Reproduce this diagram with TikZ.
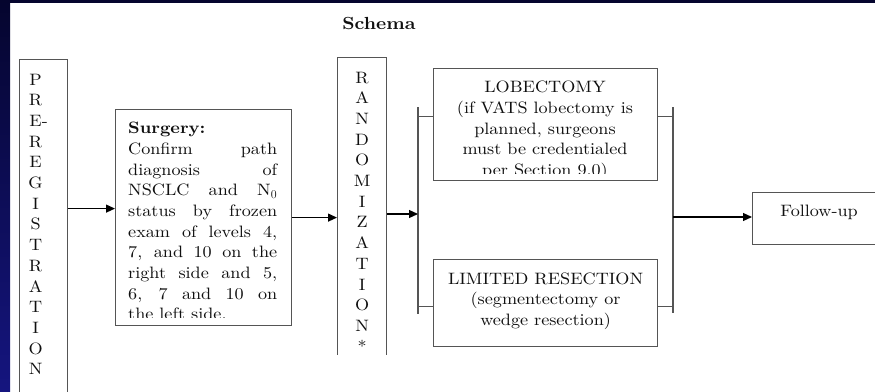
\documentclass[tikz,border=0pt]{standalone}
\usepackage{fontspec}
\setmainfont{lmroman10}[Extension=.otf, UprightFont=*-regular, BoldFont=*-bold, FakeStretch=1.1]
\usetikzlibrary{arrows.meta,calc}
\definecolor{navytop}{HTML}{05052E}
\definecolor{navybot}{HTML}{15157F}
\definecolor{boxgray}{HTML}{555555}
\definecolor{txt}{HTML}{101010}
\newcommand\pletter[1]{\makebox[22pt]{#1}}
\begin{document}
\begin{tikzpicture}[x=1pt,y=-1pt,
  every node/.style={font=\fontsize{16.5}{20.7}\selectfont, text=txt},
  boxs/.style={draw=boxgray, line width=1.2pt, rectangle, inner sep=0pt},
  arr/.style={draw=black, line width=1.2pt, -{Triangle[length=9pt,width=8pt]}},
  conn/.style={draw=boxgray, line width=1.2pt},
]
\useasboundingbox (0,0) rectangle (875,391);
\clip (0,0) rectangle (875,391);
\fill[white] (0,0) rectangle (875,391);
\shade[top color=navytop, bottom color=navybot] (0,0) rectangle (10,391);
\fill[navytop] (0,0) rectangle (875,3);

\node[font=\fontsize{17.5}{21}\selectfont\bfseries, anchor=base, inner sep=0pt] (title) at (379,29) {Schema};

% pre-registration
\node[boxs, anchor=north west, text width=38pt, inner xsep=5pt, inner ysep=14.2pt, align=left] (prereg) at (19,59)
  {\pletter{P}\\ \pletter{R}\\ \pletter{E\rlap{-}}\\ \pletter{R}\\ \pletter{E}\\ \pletter{G}\\ \pletter{I}\\ \pletter{S}\\ \pletter{T}\\ \pletter{R}\\ \pletter{A}\\ \pletter{T}\\ \pletter{I}\\ \pletter{O}\\ \pletter{N}\\[40pt] \mbox{}};

% surgery
\node[boxs, anchor=north west, minimum width=176pt, minimum height=216pt] (surg) at (115,109) {};
\begin{scope}
\clip (surg.north west) rectangle ([yshift=9pt]surg.south east);
\node[anchor=north west, inner sep=0pt, align=left] (surgtext) at (128,121.9)
  {\textbf{Surgery:}\\
   \makebox[149pt][s]{Confirm path}\\
   \makebox[149pt][s]{diagnosis of}\\
   \makebox[149pt][s]{NSCLC and N$_0$}\\
   \makebox[149pt][s]{status by frozen}\\
   \makebox[149pt][s]{exam of levels 4,}\\
   \makebox[149pt][s]{7, and 10 on the}\\
   \makebox[149pt][s]{right side and 5,}\\
   \makebox[149pt][s]{6, 7 and 10 on}\\
   the left side.};
\end{scope}

% randomization
\begin{scope}
\clip (330,40) rectangle (400,354);
\node[boxs, anchor=north west, text width=39pt, inner xsep=5pt, inner ysep=14.2pt, align=center] (rand) at (337,57)
  {R\\A\\N\\D\\O\\M\\I\\Z\\A\\T\\I\\O\\N\\{*}};
\end{scope}

% lobectomy
\node[boxs, anchor=north west, minimum width=224pt, minimum height=112pt] (lob) at (433,68) {};
\begin{scope}
\clip (lob.north west) rectangle ([yshift=8pt]lob.south east);
\node[anchor=north, inner sep=0pt, align=center] (lobtext) at (545,80.8)
  {LOBECTOMY\\(if VATS lobectomy is\\planned, surgeons\\must be credentialed\\per Section 9.0)};
\end{scope}

% limited resection
\node[boxs, anchor=north west, minimum width=224pt, minimum height=87pt, align=center] (lim) at (433,259)
  {LIMITED RESECTION\\(segmentectomy or\\wedge resection)\rule[-8pt]{0pt}{0pt}};

% follow-up
\node[boxs, anchor=north west, minimum width=133pt, minimum height=52pt, text depth=15.5pt] (follow) at (752,192) {Follow-up};

% brackets
\coordinate (blt) at (418,107);
\coordinate (blb) at (418,314);
\coordinate (bin) at (418,214);
\coordinate (brt) at (673,107);
\coordinate (brb) at (673,313);
\coordinate (bout) at (673,217);
\draw[conn] (blt) -- (blb);
\draw[conn] (brt) -- (brb);
\coordinate (lobw) at ([yshift=8pt]lob.west);
\coordinate (limw) at ([yshift=-3.5pt]lim.west);
\coordinate (lobe) at ([yshift=8pt]lob.east);
\coordinate (lime) at ([yshift=-3.5pt]lim.east);
\draw[conn] (lobw) -- (lobw -| blt);
\draw[conn] (limw) -- (limw -| blt);
\draw[conn] (lobe) -- (lobe -| brt);
\draw[conn] (lime) -- (lime -| brt);

% arrows
\coordinate (a1) at ([yshift=9pt]surg.west);
\draw[arr] (a1 -| prereg.east) -- (a1);
\draw[arr] (surg.east) -- (surg.east -| rand.west);
\draw[arr] (bin -| rand.east) -- (bin);
\draw[arr] (bout) -- (bout -| follow.west);
\end{tikzpicture}
\end{document}
